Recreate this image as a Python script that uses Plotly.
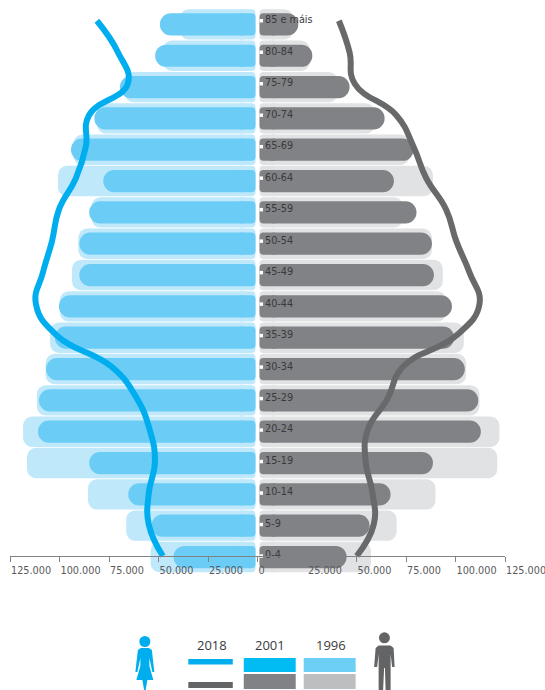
import plotly.graph_objects as go

ages = ["0-4", "5-9", "10-14", "15-19", "20-24", "25-29", "30-34", "35-39", "40-44",
        "45-49", "50-54", "55-59", "60-64", "65-69", "70-74", "75-79", "80-84", "85 e máis"]
# values in people, youngest to oldest
women_1996 = [54000, 66300, 85600, 116400, 118400, 111400, 107000, 104800, 99800,
              93700, 90500, 83800, 100800, 93000, 81000, 67000, 47700, 39200]
women_2001 = [42400, 53500, 65300, 85000, 110900, 110400, 106800, 102300, 100300,
              90000, 90000, 85000, 77900, 94200, 82400, 69500, 51700, 49300]
women_2018 = [47800, 54900, 54900, 51800, 54400, 60900, 73500, 101300, 111900,
              108400, 103800, 100300, 91700, 86700, 85100, 65500, 70500, 81100]
men_1996 = [57300, 70300, 89900, 121100, 122200, 112100, 105400, 104200, 95300,
            93600, 88100, 73400, 88600, 76800, 59200, 40500, 26400, 18000]
men_2001 = [45000, 56600, 67200, 88600, 112800, 111500, 104700, 99300, 98200,
            89100, 88100, 80300, 68900, 78800, 64200, 46500, 27700, 20600]
men_2018 = [50100, 58700, 58100, 54600, 55600, 65700, 73300, 100400, 112100,
            107100, 100400, 95300, 85200, 78800, 70100, 49100, 46500, 41100]

tick_vals = [-125000, -100000, -75000, -50000, -25000, 0, 25000, 50000, 75000, 100000, 125000]
tick_text = ["125.000", "100.000", "75.000", "50.000", "25.000", "0",
             "25.000", "50.000", "75.000", "100.000", "125.000"]
legend_years = ["2018", "2001", "1996"]

W, H = 545, 690
L, R, T, B = 10, 505.5, 5, 580
AXIS_Y = 555.5
GAP = 1000
START = 3000
CAP_END = 10000
FONT = "DejaVu Sans"


def px(x):
    return (x - L) / (R - L)


def py(y):
    return 1 - (y - T) / (B - T)


fig = go.Figure()


def bars(vals, sign, color, width, radius):
    # main body, rounded at the far end
    fig.add_trace(go.Bar(
        y=ages, x=[sign * (v - START) for v in vals], base=sign * START, orientation="h",
        width=width, marker=dict(color=color, cornerradius=radius, line=dict(width=0)),
        cliponaxis=False, showlegend=False, hoverinfo="skip"))
    # short cap giving the end next to the centre its tighter rounding
    fig.add_trace(go.Bar(
        y=ages, x=[sign * (CAP_END - GAP)] * len(ages), base=sign * GAP,
        orientation="h", width=width,
        marker=dict(color=color, cornerradius=4, line=dict(width=0)),
        cliponaxis=False, showlegend=False, hoverinfo="skip"))


bars(women_1996, -1, "#bfe8fb", 0.97, 9)
bars(men_1996, 1, "#e1e2e4", 0.97, 9)
bars(women_2001, -1, "#6bcdf6", 0.71, 11)
bars(men_2001, 1, "#808285", 0.71, 11)

fig.add_trace(go.Scatter(
    y=ages, x=[-v for v in women_2018], yaxis="y2", mode="lines",
    line=dict(color="#00aeef", width=6, shape="spline", smoothing=1.3),
    cliponaxis=False, showlegend=False, hoverinfo="skip"))
fig.add_trace(go.Scatter(
    y=ages, x=men_2018, yaxis="y2", mode="lines",
    line=dict(color="#68696b", width=6, shape="spline", smoothing=1.3),
    cliponaxis=False, showlegend=False, hoverinfo="skip"))

# age labels with their white notch
fig.add_trace(go.Scatter(
    y=ages, x=[1900] * len(ages), yaxis="y2", mode="markers",
    marker=dict(symbol="square", size=3.5, color="white", line=dict(width=0)),
    cliponaxis=False, showlegend=False, hoverinfo="skip"))
fig.add_trace(go.Scatter(
    y=ages, x=[3800] * len(ages), yaxis="y2", mode="text", text=ages,
    textposition="middle right", textfont=dict(family=FONT, size=9.7, color="#3a3a3c"),
    cliponaxis=False, showlegend=False, hoverinfo="skip"))

shapes = []
annotations = []


def rect(x0, y0, x1, y1, color):
    shapes.append(dict(type="rect", xref="paper", yref="paper", x0=px(x0), x1=px(x1),
                       y0=py(y0), y1=py(y1), fillcolor=color, line=dict(width=0)))


def poly(points, color):
    d = "M " + " L ".join(f"{px(x):.5f} {py(y):.5f}" for x, y in points) + " Z"
    shapes.append(dict(type="path", xref="paper", yref="paper", path=d,
                       fillcolor=color, line=dict(width=0)))


def head(cx, cy, r, color):
    shapes.append(dict(type="circle", xref="paper", yref="paper", x0=px(cx - r), x1=px(cx + r),
                       y0=py(cy - r), y1=py(cy + r), fillcolor=color, line=dict(width=0)))


rect(188.5, 659, 233, 664.5, "#00aeef")
rect(188.5, 682, 233, 688, "#636466")
rect(244, 658, 296, 672, "#00bcf2")
rect(244, 674, 296, 689, "#808285")
rect(304, 658, 356, 672, "#6dcff6")
rect(304, 674, 356, 689, "#bcbec0")

for label, cx in zip(legend_years, [212, 270, 331]):
    annotations.append(dict(text=label, xref="paper", yref="paper", x=px(cx), y=py(645),
                            xanchor="center", yanchor="middle", showarrow=False,
                            font=dict(family="Open Sans", size=13, color="#3a3a3c")))

# woman
head(145, 641.5, 5.5, "#00aeef")
poly([(141, 648), (149, 648), (152, 650), (154.5, 672), (152.5, 672), (149.5, 658), (149.5, 666),
      (153.5, 680), (147.5, 680), (145.8, 690), (144.2, 690), (142.5, 680), (136.5, 680),
      (140.5, 666), (140.5, 658), (137.5, 672), (135.5, 672), (138, 650)], "#00aeef")
# man
head(384.8, 637.8, 5.5, "#636466")
poly([(379, 645.5), (391, 645.5), (394, 648), (395, 667), (392.5, 667), (391, 654), (391, 690),
      (386, 690), (385.3, 668), (384.5, 668), (383.5, 690), (379, 690), (379, 654), (377.5, 667),
      (374.5, 667), (376, 648)], "#636466")

fig.update_layout(
    width=W, height=H, autosize=False, barmode="overlay",
    margin=dict(l=L, r=W - R, t=T, b=H - B, pad=0),
    paper_bgcolor="white", plot_bgcolor="rgba(0,0,0,0)", showlegend=False,
    xaxis=dict(range=[-125000, 125000], tickmode="array", tickvals=tick_vals, ticktext=tick_text,
               anchor="free", position=py(AXIS_Y), tickangle=0, automargin=False,
               ticks="outside", ticklen=5, tickwidth=1, tickcolor="#808285",
               showline=True, linecolor="#808285", linewidth=1, showgrid=False, zeroline=False,
               ticklabelposition="outside right", ticklabeloverflow="allow", ticklabelstandoff=6,
               tickfont=dict(family=FONT, size=9.7, color="#58595b")),
    yaxis=dict(type="category", categoryorder="array", categoryarray=ages,
               range=[-0.734, 17.62], visible=False),
    yaxis2=dict(type="category", categoryorder="array", categoryarray=ages, overlaying="y",
                range=[-0.762, 17.5], visible=False),
    shapes=shapes, annotations=annotations,
)

fig.write_html("out.html", post_script="document.body.style.margin='0';",
               config={"displayModeBar": False})
